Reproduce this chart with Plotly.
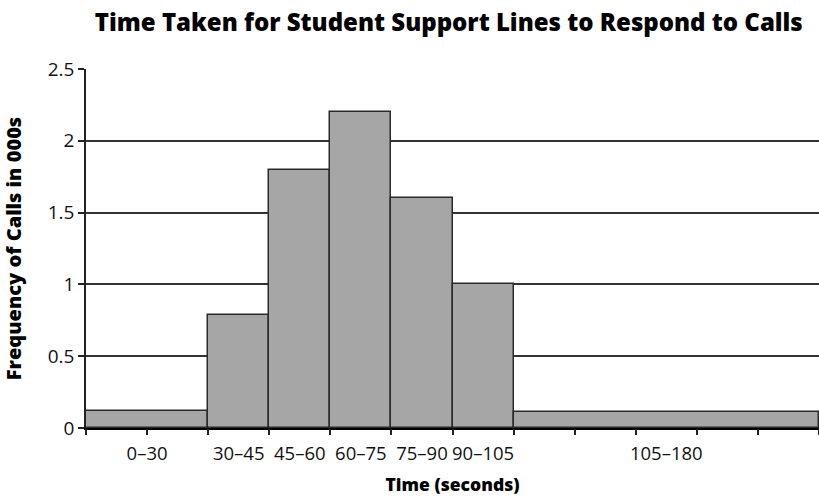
import plotly.graph_objects as go

# Data
categories = ["0–30", "30–45", "45–60", "60–75", "75–90", "90–105", "105–180"]
lower_edges = [0, 30, 45, 60, 75, 90, 105]
upper_edges = [30, 45, 60, 75, 90, 105, 180]
frequency = [0.12, 0.79, 1.8, 2.2, 1.6, 1.0, 0.11]
y_ticks = [0, 0.5, 1, 1.5, 2, 2.5]
y_tick_labels = ["0", "0.5", "1", "1.5", "2", "2.5"]
x_tick_marks = list(range(0, 181, 15))

mids = [(a + b) / 2 for a, b in zip(lower_edges, upper_edges)]
widths = [b - a for a, b in zip(lower_edges, upper_edges)]

FONT = "Open Sans"

fig = go.Figure()
fig.add_trace(go.Bar(
    x=mids, y=frequency, width=widths,
    marker=dict(color="#a6a6a6", line=dict(color="#2a2a2a", width=1.5)),
    showlegend=False, hoverinfo="skip",
))
# invisible trace on the secondary axis so tick marks get drawn
fig.add_trace(go.Scatter(x=[0, 180], y=[0, 0], xaxis="x2", mode="lines",
                         line=dict(width=0), showlegend=False, hoverinfo="skip"))

fig.update_layout(
    width=819, height=502,
    margin=dict(l=86, r=0, t=69, b=74),
    paper_bgcolor="white", plot_bgcolor="white",
    font=dict(family=FONT, color="#111"),
    title=dict(text="Time Taken for Student Support Lines to Respond to Calls",
               x=0.548, xanchor="center", y=0.955, yanchor="middle",
               font=dict(family=FONT, size=24, weight=800, color="#000")),
    bargap=0,
    xaxis=dict(
        range=[0, 180], tickmode="array", tickvals=mids, ticktext=categories,
        tickangle=0,
        ticks="outside", ticklen=8, tickcolor="rgba(0,0,0,0)",
        tickfont=dict(size=18.5, color="#111"),
        showgrid=False, zeroline=False,
        showline=True, linecolor="#000", linewidth=2,
        title=dict(text="Time (seconds)", font=dict(size=17.5, weight=800, color="#000"), standoff=15),
        automargin=False,
        fixedrange=True,
    ),
    xaxis2=dict(
        range=[0, 180], overlaying="x", anchor="y", side="bottom",
        tickmode="array", tickvals=x_tick_marks, showticklabels=False,
        ticks="outside", ticklen=6, tickwidth=1.5, tickcolor="#222",
        showgrid=False, zeroline=False, showline=False,
    ),
    yaxis=dict(
        range=[0, 2.5], tickmode="array", tickvals=y_ticks, ticktext=y_tick_labels,
        ticks="outside", ticklen=6, tickwidth=1.5, tickcolor="#222",
        tickfont=dict(size=19, color="#111"),
        showgrid=True, gridcolor="#333", gridwidth=1.5,
        zeroline=False, showline=True, linecolor="#222", linewidth=1.5,
        title=dict(text="Frequency of Calls in 000s", font=dict(size=20, weight=800, color="#000"), standoff=23),
        automargin=False,
        fixedrange=True,
    ),
)

fig.write_html("out.html", config={"displayModeBar": False},
               post_script="document.body.style.margin='0';document.body.style.overflow='hidden';")
